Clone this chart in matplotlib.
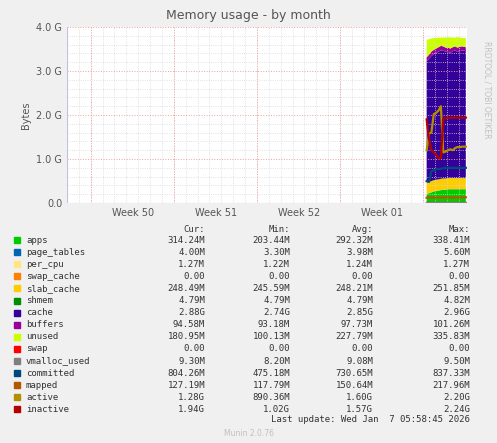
import numpy as np
import matplotlib.pyplot as plt

G = 1e9
# time in days from left edge of graph
t = [30.3, 30.5, 30.7, 30.9, 31.1, 31.3, 31.5, 31.7, 31.9, 32.1, 32.3, 32.5, 32.7, 32.9, 33.1, 33.3, 33.6]

apps = [0.20, 0.22, 0.24, 0.26, 0.27, 0.28, 0.29, 0.30, 0.30, 0.31, 0.31, 0.31, 0.31, 0.31, 0.31, 0.31, 0.31]
page_tables = [0.004] * 17
per_cpu = [0.0013] * 17
swap_cache = [0.0] * 17
slab_cache = [0.25, 0.25, 0.25, 0.25, 0.25, 0.25, 0.25, 0.25, 0.25, 0.25, 0.25, 0.25, 0.25, 0.25, 0.25, 0.25, 0.25]
shmem = [0.0048] * 17
cache = [2.76, 2.80, 2.84, 2.86, 2.88, 2.90, 2.92, 2.90, 2.88, 2.86, 2.84, 2.88, 2.90, 2.86, 2.88, 2.90, 2.88]
buffers = [0.09, 0.09, 0.10, 0.10, 0.10, 0.10, 0.10, 0.10, 0.09, 0.10, 0.10, 0.09, 0.09, 0.10, 0.10, 0.09, 0.09]
unused = [0.40, 0.35, 0.30, 0.27, 0.24, 0.22, 0.19, 0.20, 0.23, 0.24, 0.25, 0.22, 0.20, 0.24, 0.21, 0.19, 0.21]
swap = [0.0] * 17
vmalloc_used = [0.009] * 17
committed = [0.50, 0.48, 0.72, 0.74, 0.77, 0.77, 0.78, 0.79, 0.80, 0.80, 0.80, 0.80, 0.80, 0.80, 0.80, 0.80, 0.80]
mapped = [0.12, 0.13, 0.12, 0.13, 0.12, 0.13, 0.12, 0.13, 0.12, 0.13, 0.13, 0.12, 0.13, 0.12, 0.13, 0.13, 0.13]
active = [1.20, 1.58, 1.60, 2.02, 2.05, 2.10, 2.20, 1.15, 1.17, 1.20, 1.22, 1.20, 1.25, 1.27, 1.27, 1.28, 1.28]
inactive = [1.90, 1.45, 1.20, 1.15, 1.10, 1.02, 1.02, 1.92, 1.93, 1.93, 1.94, 1.94, 1.94, 1.94, 1.94, 1.94, 1.94]

stack_names = ['apps', 'page_tables', 'per_cpu', 'swap_cache', 'slab_cache', 'shmem', 'cache', 'buffers', 'unused']
stack_vals = [apps, page_tables, per_cpu, swap_cache, slab_cache, shmem, cache, buffers, unused]
stack_cols = ['#00CC00', '#0066B3', '#FFE680', '#FF8000', '#FFCC00', '#008F00', '#330099', '#990099', '#CCFF00']
line_names = ['swap', 'vmalloc_used', 'committed', 'mapped', 'active', 'inactive']
line_vals = [swap, vmalloc_used, committed, mapped, active, inactive]
line_cols = ['#FF0000', '#808080', '#00487D', '#B35A00', '#B38F00', '#B30000']

rows = [
    ('apps', '314.24M', '203.44M', '292.32M', '338.41M'),
    ('page_tables', '4.00M', '3.30M', '3.98M', '5.60M'),
    ('per_cpu', '1.27M', '1.22M', '1.24M', '1.27M'),
    ('swap_cache', '0.00', '0.00', '0.00', '0.00'),
    ('slab_cache', '248.49M', '245.59M', '248.21M', '251.85M'),
    ('shmem', '4.79M', '4.79M', '4.79M', '4.82M'),
    ('cache', '2.88G', '2.74G', '2.85G', '2.96G'),
    ('buffers', '94.58M', '93.18M', '97.73M', '101.26M'),
    ('unused', '180.95M', '100.13M', '227.79M', '335.83M'),
    ('swap', '0.00', '0.00', '0.00', '0.00'),
    ('vmalloc_used', '9.30M', '8.20M', '9.08M', '9.50M'),
    ('committed', '804.26M', '475.18M', '730.65M', '837.33M'),
    ('mapped', '127.19M', '117.79M', '150.64M', '217.96M'),
    ('active', '1.28G', '890.36M', '1.60G', '2.20G'),
    ('inactive', '1.94G', '1.02G', '1.57G', '2.24G'),
]
colors = stack_cols + line_cols

fig = plt.figure(figsize=(4.97, 4.43), dpi=100, facecolor='#F0F0F0')
ax = fig.add_axes([67/497, 1 - 203/443, 400/497, 176/443])
ax.set_facecolor('white')

ax.stackplot(t, np.array(stack_vals) * G, colors=stack_cols, linewidth=0)
for v, c in zip(line_vals, line_cols):
    ax.plot(t, np.array(v) * G, color=c, lw=1.6)

ax.set_xlim(0, 33.7)
ax.set_ylim(0, 4 * G)
ax.set_yticks(np.arange(0, 4.01, 1) * G)
ax.set_yticklabels(['0.0', '1.0 G', '2.0 G', '3.0 G', '4.0 G'], fontsize=7, color='#555555')
ax.set_yticks(np.arange(0, 4.01, 0.2) * G, minor=True)
ax.set_xticks([5.57, 12.57, 19.57, 26.57])
ax.set_xticklabels(['Week 50', 'Week 51', 'Week 52', 'Week 01'], fontsize=7, color='#555555')
ax.set_xticks(np.arange(0, 33.7, 1), minor=True)
ax.tick_params(length=0, which='both')
ax.grid(which='minor', color='#D8D8D8', ls=':', lw=0.6)
ax.grid(which='major', axis='y', color='#F0A0A0', ls=':', lw=0.7)
for d in [2.0, 9.0, 16.0, 23.0, 30.0]:
    ax.axvline(d, color='#F0A0A0', ls=':', lw=0.7)
for s in ax.spines.values():
    s.set_visible(False)
ax.axhline(0, color='#C0C0E0', lw=0.8)
ax.axvline(0, color='#C0C0E0', lw=0.8)
ax.set_ylabel('Bytes', fontsize=7, color='#555555')

fig.text(0.5, 1 - 16/443, 'Memory usage - by month', ha='center', va='center', fontsize=9, color='#555555')
fig.text(487/497, 1 - 90/443, 'RRDTOOL / TOBI OETIKER', rotation=270, ha='center', va='center', fontsize=5.5, color='#C0C0C0')

mono = 'DejaVu Sans Mono'
hy = 1 - 229/443
for x, lab in zip([205, 290, 373, 470], ['Cur:', 'Min:', 'Avg:', 'Max:']):
    fig.text(x/497, hy, lab, ha='right', va='center', fontsize=6.5, family=mono, color='#333333')
for i, (r, c) in enumerate(zip(rows, colors)):
    y = 1 - (240 + i * 12.1)/443
    fig.patches.append(plt.Rectangle((14/497, y - 3/443), 6/497, 6/443, transform=fig.transFigure, color=c))
    fig.text(26/497, y, r[0], ha='left', va='center', fontsize=6.5, family=mono, color='#333333')
    for x, v in zip([205, 290, 373, 470], r[1:]):
        fig.text(x/497, y, v, ha='right', va='center', fontsize=6.5, family=mono, color='#333333')
fig.text(470/497, 1 - 420/443, 'Last update: Wed Jan  7 05:58:45 2026', ha='right', va='center', fontsize=6.5, family=mono, color='#333333')
fig.text(0.5, 1 - 433/443, 'Munin 2.0.76', ha='center', va='center', fontsize=5.5, color='#C0C0C0')

fig.savefig('out.png', dpi=100, facecolor=fig.get_facecolor())
